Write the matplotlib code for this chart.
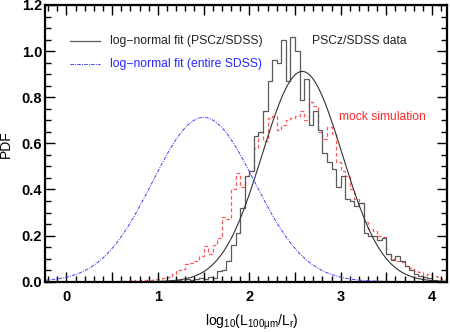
import numpy as np
import matplotlib
matplotlib.use("Agg")
import matplotlib.pyplot as plt
from matplotlib.ticker import MultipleLocator

plt.rcParams['font.family'] = ['Liberation Sans', 'DejaVu Sans']
plt.rcParams['mathtext.default'] = 'regular'

# ---- data ----
bin_width = 0.05
data_start = 1.10
data_pdf = [0.005, 0.0, 0.007, 0.005, 0.01, 0.008, 0.012, 0.015, 0.01, 0.02,
            0.018, 0.045, 0.05, 0.09, 0.16, 0.21, 0.32, 0.46, 0.48, 0.63,
            0.65, 0.74, 0.87, 0.96, 0.95, 1.05, 0.87, 1.06, 1.00, 0.79,
            0.88, 0.68, 0.74, 0.66, 0.56, 0.52, 0.49, 0.41, 0.46, 0.36,
            0.35, 0.33, 0.34, 0.21, 0.20, 0.20, 0.18, 0.19, 0.12, 0.095,
            0.11, 0.09, 0.07, 0.05, 0.035, 0.025, 0.022, 0.018, 0.007]
mock_start = 0.55
mock_pdf = [0.003, 0.005, 0.004, 0.006, 0.005, 0.007, 0.006, 0.008, 0.010, 0.012,
            0.015, 0.020, 0.035, 0.050, 0.055, 0.075, 0.080, 0.090, 0.110, 0.155,
            0.120, 0.160, 0.190, 0.280, 0.270, 0.400, 0.470, 0.410, 0.460, 0.480,
            0.580, 0.650, 0.610, 0.710, 0.720, 0.660, 0.680, 0.700, 0.710, 0.720,
            0.740, 0.700, 0.780, 0.760, 0.650, 0.620, 0.670, 0.640, 0.520, 0.480,
            0.460, 0.400, 0.360, 0.340, 0.260, 0.230, 0.220, 0.200, 0.195, 0.120,
            0.100, 0.090, 0.085, 0.070, 0.060, 0.045, 0.040, 0.030, 0.035, 0.025,
            0.020, 0.010]
fit_pscz = (2.58, 0.4375)     # mean, sigma
fit_sdss = (1.50, 0.56)
xlim = (-0.235, 4.16)
ylim = (0.0, 1.2)

def gauss(x, mu, s):
    return np.exp(-(x - mu) ** 2 / (2 * s * s)) / (s * np.sqrt(2 * np.pi))

fig = plt.figure(figsize=(4.5, 3.32), dpi=100)
ax = fig.add_axes([0.1, 0.1515, 0.8926, 0.8335])

x = np.linspace(xlim[0], xlim[1], 600)
data_edges = data_start + bin_width * np.arange(len(data_pdf) + 1)
mock_edges = mock_start + bin_width * np.arange(len(mock_pdf) + 1)

blue = '#3c3cff'
dashdot = (0, (3.5, 1.3, 1, 1.3))
ax.stairs(mock_pdf, mock_edges, color='#ff5a5a', lw=0.9, linestyle=(0, (3, 2)), baseline=0)
ax.stairs(data_pdf, data_edges, color='#5a5a5a', lw=0.9, baseline=0)
ax.plot(x, gauss(x, *fit_pscz), color='#333333', lw=0.8)
ax.plot(x, gauss(x, *fit_sdss), color=blue, lw=0.7, linestyle=dashdot)

fs = 8.7
# legend (manual)
ax.plot([0.04, 0.37], [1.043, 1.043], color='#5a5a5a', lw=0.9)
ax.text(0.48, 1.043, 'log−normal fit (PSCz/SDSS)', fontsize=fs, va='center', color='#222222')
ax.plot([0.04, 0.37], [0.945, 0.945], color=blue, lw=0.7, linestyle=dashdot)
ax.text(0.48, 0.945, 'log−normal fit (entire SDSS)', fontsize=fs, va='center', color='#2828ff')
ax.text(2.687, 1.043, 'PSCz/SDSS data', fontsize=fs, va='center', color='#222222')
ax.text(2.985, 0.714, 'mock simulation', fontsize=fs, va='center', color='#ff2a2a')

ax.set_xlim(*xlim)
ax.set_ylim(*ylim)

ax.xaxis.set_major_locator(MultipleLocator(0.5))
ax.xaxis.set_minor_locator(MultipleLocator(0.1))
ax.xaxis.set_major_formatter(plt.FuncFormatter(
    lambda v, p: ('%d' % round(v)) if abs(v - round(v)) < 1e-6 else ''))
ax.yaxis.set_major_locator(MultipleLocator(0.2))
ax.yaxis.set_minor_locator(MultipleLocator(0.05))
ax.yaxis.set_major_formatter(plt.FuncFormatter(lambda v, p: '%.1f' % v))

ax.tick_params(which='both', direction='in', top=True, right=True, width=1.0)
ax.tick_params(which='major', length=7)
ax.tick_params(which='minor', length=4)
ax.tick_params(axis='y', which='major', pad=2, labelsize=10.5)
ax.tick_params(axis='x', which='major', pad=6, labelsize=10.5)
for lab in ax.get_xticklabels() + ax.get_yticklabels():
    lab.set_fontweight('bold')
for sp in ax.spines.values():
    sp.set_linewidth(1.6)

fig.text(6 / 450, 1 - 144 / 332, 'PDF', rotation=90, fontsize=10, ha='center', va='center')
fig.text(252 / 450, 1 - 322 / 332, 'log$_{10}$(L$_{100\u03bcm}$/L$_{r}$)', fontsize=10,
         ha='center', va='center')

fig.savefig('out.png', dpi=100)
